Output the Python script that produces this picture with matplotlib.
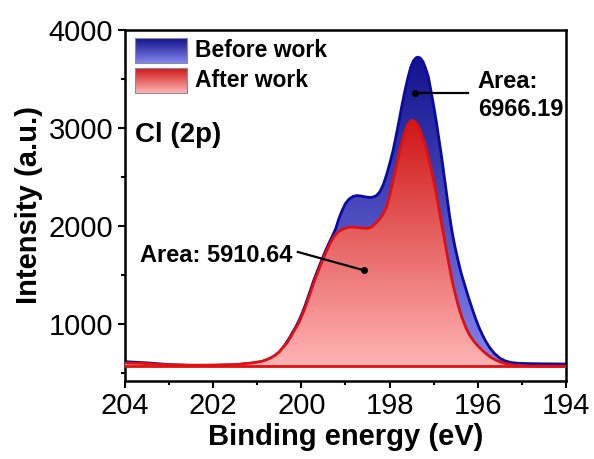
import numpy as np
import matplotlib
matplotlib.use("Agg")
import matplotlib.pyplot as plt
from matplotlib.colors import LinearSegmentedColormap
from matplotlib.patches import Rectangle

plt.rcParams['font.family'] = ['Liberation Sans', 'DejaVu Sans']

# Cl 2p spectra (binding energy in eV, intensity in a.u.)
be_before = [204.0, 203.5, 203.0, 202.5, 202.0, 201.5, 201.1, 200.9, 200.8, 200.71,
             200.6, 200.5, 200.42, 200.35, 200.27, 200.2, 200.12, 200.05, 199.98, 199.92,
             199.87, 199.82, 199.77, 199.72, 199.66, 199.6, 199.52, 199.45, 199.37, 199.3,
             199.22, 199.15, 199.07, 199.0, 198.92, 198.83, 198.75, 198.65, 198.55, 198.45,
             198.38, 198.3, 198.22, 198.14, 198.06, 197.98, 197.92, 197.85, 197.78, 197.72,
             197.65, 197.58, 197.52, 197.46, 197.4, 197.35, 197.3, 197.24, 197.18, 197.12,
             197.06, 197.0, 196.94, 196.88, 196.82, 196.76, 196.7, 196.64, 196.58, 196.52,
             196.45, 196.38, 196.3, 196.22, 196.14, 196.06, 195.98, 195.9, 195.82, 195.72,
             195.62, 195.5, 195.38, 195.25, 195.1, 194.8, 194.5, 194.0]
int_before = [612, 600, 582, 574, 575, 580, 598, 612, 628, 645,
              673, 710, 752, 798, 855, 910, 972, 1035, 1108, 1178,
              1243, 1308, 1373, 1440, 1510, 1580, 1668, 1745, 1825, 1890,
              1970, 2070, 2160, 2225, 2270, 2297, 2306, 2302, 2293, 2287,
              2290, 2305, 2345, 2420, 2530, 2660, 2767, 2920, 3080, 3225,
              3380, 3514, 3615, 3680, 3712, 3718, 3708, 3670, 3600, 3514,
              3370, 3220, 3060, 2880, 2699, 2500, 2300, 2100, 1930, 1790,
              1650, 1520, 1400, 1280, 1170, 1065, 970, 890, 820, 750,
              695, 648, 620, 604, 596, 592, 590, 588]

be_after = [204.0, 203.5, 203.0, 202.5, 202.0, 201.5, 201.1, 200.9, 200.8, 200.71,
            200.6, 200.5, 200.42, 200.33, 200.25, 200.18, 200.1, 200.03, 199.96, 199.9,
            199.85, 199.8, 199.75, 199.7, 199.64, 199.58, 199.5, 199.43, 199.35, 199.28,
            199.2, 199.1, 199.0, 198.9, 198.8, 198.7, 198.6, 198.52, 198.45, 198.38,
            198.3, 198.22, 198.14, 198.07, 198.0, 197.94, 197.88, 197.82, 197.76, 197.7,
            197.64, 197.58, 197.53, 197.48, 197.43, 197.38, 197.32, 197.26, 197.2, 197.14,
            197.08, 197.02, 196.96, 196.9, 196.84, 196.78, 196.72, 196.66, 196.6, 196.52,
            196.44, 196.36, 196.27, 196.18, 196.08, 195.98, 195.88, 195.78, 195.68, 195.56,
            195.43, 195.3, 195.15, 194.9, 194.5, 194.0]
int_after = [600, 592, 580, 576, 577, 582, 600, 615, 630, 647,
             675, 712, 755, 801, 860, 915, 975, 1035, 1110, 1180,
             1245, 1310, 1375, 1440, 1510, 1578, 1665, 1740, 1815, 1875,
             1920, 1955, 1975, 1985, 1984, 1980, 1974, 1972, 1978, 1995,
             2030, 2070, 2122, 2190, 2300, 2420, 2540, 2660, 2780, 2885,
             2970, 3035, 3065, 3073, 3062, 3035, 2985, 2915, 2830, 2735,
             2620, 2500, 2370, 2220, 2070, 1920, 1770, 1620, 1480, 1320,
             1180, 1065, 960, 880, 815, 765, 720, 682, 650, 622,
             600, 585, 574, 569, 567, 566]

baseline = 565
x_ticks = [204, 202, 200, 198, 196, 194]
y_ticks = [1000, 2000, 3000, 4000]
legend_labels = ["Before work", "After work"]
area_before = "6966.19"
area_after = "5910.64"

BLUE_LINE = "#0a0aa8"
RED_LINE = "#e01010"
BLUE_GRAD = ["#8484f0", "#12128c"]   # bottom -> top
RED_GRAD = ["#ffb4b4", "#d01616"]


def gradient_fill(ax, x, y, base, colors, z):
    cmap = LinearSegmentedColormap.from_list("grad", colors)
    poly = ax.fill_between(x, y, base, facecolor="none", edgecolor="none", zorder=z)
    grad = np.linspace(0, 1, 256).reshape(-1, 1)
    im = ax.imshow(grad, cmap=cmap, origin="lower", aspect="auto", zorder=z,
                   extent=[min(x), max(x), base, max(y)], interpolation="bilinear")
    im.set_clip_path(poly.get_paths()[0], transform=ax.transData)


fig = plt.figure(figsize=(5.94, 4.59), dpi=100)
ax = fig.add_axes([0.2104, 0.171, 0.7424, 0.7647])

gradient_fill(ax, be_before, int_before, baseline, BLUE_GRAD, 1)
ax.plot(be_before, int_before, color=BLUE_LINE, lw=2.0, zorder=2, solid_joinstyle="round")
gradient_fill(ax, be_after, int_after, baseline, RED_GRAD, 3)
ax.plot(be_after, int_after, color=RED_LINE, lw=2.0, zorder=4, solid_joinstyle="round")
ax.axhline(baseline, color=RED_LINE, lw=2.0, zorder=4)

ax.set_xticks(x_ticks)
ax.set_xticks(np.arange(194, 205, 1), minor=True)
ax.set_yticks(y_ticks)
ax.set_yticks(np.arange(500, 4001, 500), minor=True)
ax.tick_params(which="both", direction="out", width=1.5, labelsize=21, top=False, right=False)
ax.tick_params(which="major", length=5)
ax.tick_params(which="minor", length=3)
for s in ax.spines.values():
    s.set_linewidth(1.8)

ax.set_xlabel("Binding energy (eV)", fontsize=21, fontweight="bold", labelpad=2)
ax.set_ylabel("Intensity (a.u.)", fontsize=21, fontweight="bold", labelpad=4)

# gradient legend boxes
for i, (label, colors) in enumerate(zip(legend_labels, [BLUE_GRAD, RED_GRAD])):
    y0 = 0.905 - i * 0.086
    cmap = LinearSegmentedColormap.from_list("leg", colors)
    grad = np.linspace(0, 1, 64).reshape(-1, 1)
    ax.imshow(grad, cmap=cmap, origin="lower", aspect="auto", transform=ax.transAxes,
              extent=[0.023, 0.141, y0, y0 + 0.071], zorder=5)
    ax.add_patch(Rectangle((0.023, y0), 0.118, 0.071, transform=ax.transAxes,
                           fill=False, edgecolor="#8a8aa0", lw=0.8, zorder=6))
    ax.text(0.159, y0 + 0.036, label, transform=ax.transAxes, fontsize=16.5,
            fontweight="bold", va="center", ha="left", zorder=6)

ax.set_xlim(204, 194)
ax.set_ylim(420, 4000)

ax.text(0.023, 0.70, "Cl (2p)", transform=ax.transAxes, fontsize=20,
        fontweight="bold", va="center", ha="left")

# area annotations
ax.plot([197.42, 196.22], [3348, 3348], color="black", lw=1.6, zorder=7)
ax.plot([197.42], [3348], "o", color="black", ms=4, zorder=7)
ax.text(196.0, 3327, "Area:\n" + area_before, fontsize=17, fontweight="bold",
        va="center", ha="left", linespacing=1.25, zorder=7)

ax.plot([200.08, 198.58], [1731, 1544], color="black", lw=1.6, zorder=7)
ax.plot([198.58], [1544], "o", color="black", ms=4, zorder=7)
ax.text(203.66, 1692, "Area: " + area_after, fontsize=17, fontweight="bold",
        va="center", ha="left", zorder=7)

fig.savefig("out.png", dpi=100)
